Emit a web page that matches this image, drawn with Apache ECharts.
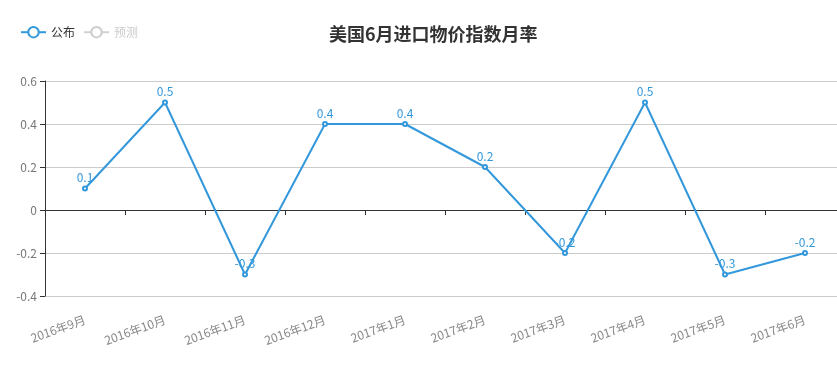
<!DOCTYPE html>
<html><head><meta charset="utf-8">
<script src="https://cdn.jsdelivr.net/npm/echarts@6/dist/echarts.min.js"></script>
<style>html,body{margin:0;padding:0;background:#fff;overflow:hidden}#c{width:845px;height:368px}</style>
</head><body><div id="c"></div>
<script>
const categories = ['2016年9月','2016年10月','2016年11月','2016年12月','2017年1月','2017年2月','2017年3月','2017年4月','2017年5月','2017年6月'];
const published = [0.1, 0.5, -0.3, 0.4, 0.4, 0.2, -0.2, 0.5, -0.3, -0.2];
const forecast = [];
const yTicks = {min: -0.4, max: 0.6, interval: 0.2};
const color = '#3398DB';
const chart = echarts.init(document.getElementById('c'));
chart.setOption({
  animation: false,
  textStyle: {fontFamily: '"Microsoft YaHei","Noto Sans CJK SC",sans-serif'},
  title: {text: '美国6月进口物价指数月率', left: 324, top: 20, textStyle: {fontSize: 18, fontWeight: 'bold', color: '#333'}},
  legend: {left: 15, top: 21, itemWidth: 25, itemHeight: 13, itemGap: 8,
    data: ['公布', '预测'],
    selected: {'公布': true, '预测': false},
    textStyle: {color: '#333', fontSize: 12}, inactiveColor: '#ccc'},
  grid: {left: 45, top: 81, bottom: 72, right: 0},
  xAxis: [
    {type: 'category', data: categories, boundaryGap: true,
     axisLine: {show: false, onZero: false}, axisTick: {show: false},
     axisLabel: {rotate: 20, color: '#888', fontSize: 12, interval: 0, margin: 23}},
    {type: 'category', data: categories, boundaryGap: true, position: 'bottom',
     axisLine: {show: true, onZero: true, lineStyle: {color: '#333'}},
     axisTick: {show: true, interval: 0, length: 5, lineStyle: {color: '#333'}},
     axisLabel: {show: false}, splitLine: {show: false}}
  ],
  yAxis: {type: 'value', min: yTicks.min, max: yTicks.max, interval: yTicks.interval,
    axisLine: {show: true, lineStyle: {color: '#333'}}, axisTick: {show: true, length: 5},
    axisLabel: {color: '#777', fontSize: 12, margin: 8},
    splitLine: {lineStyle: {color: '#ccc'}}},
  series: [
    {name: '公布', type: 'line', data: published, symbol: 'emptyCircle', symbolSize: 4,
     itemStyle: {color: color}, lineStyle: {color: color, width: 2},
     label: {show: true, position: 'top', color: color, fontSize: 12, distance: 2}},
    {name: '预测', type: 'line', data: forecast, symbol: 'emptyCircle', symbolSize: 4,
     itemStyle: {color: '#aaa'}, lineStyle: {color: '#aaa'}}
  ]
});
</script></body></html>
